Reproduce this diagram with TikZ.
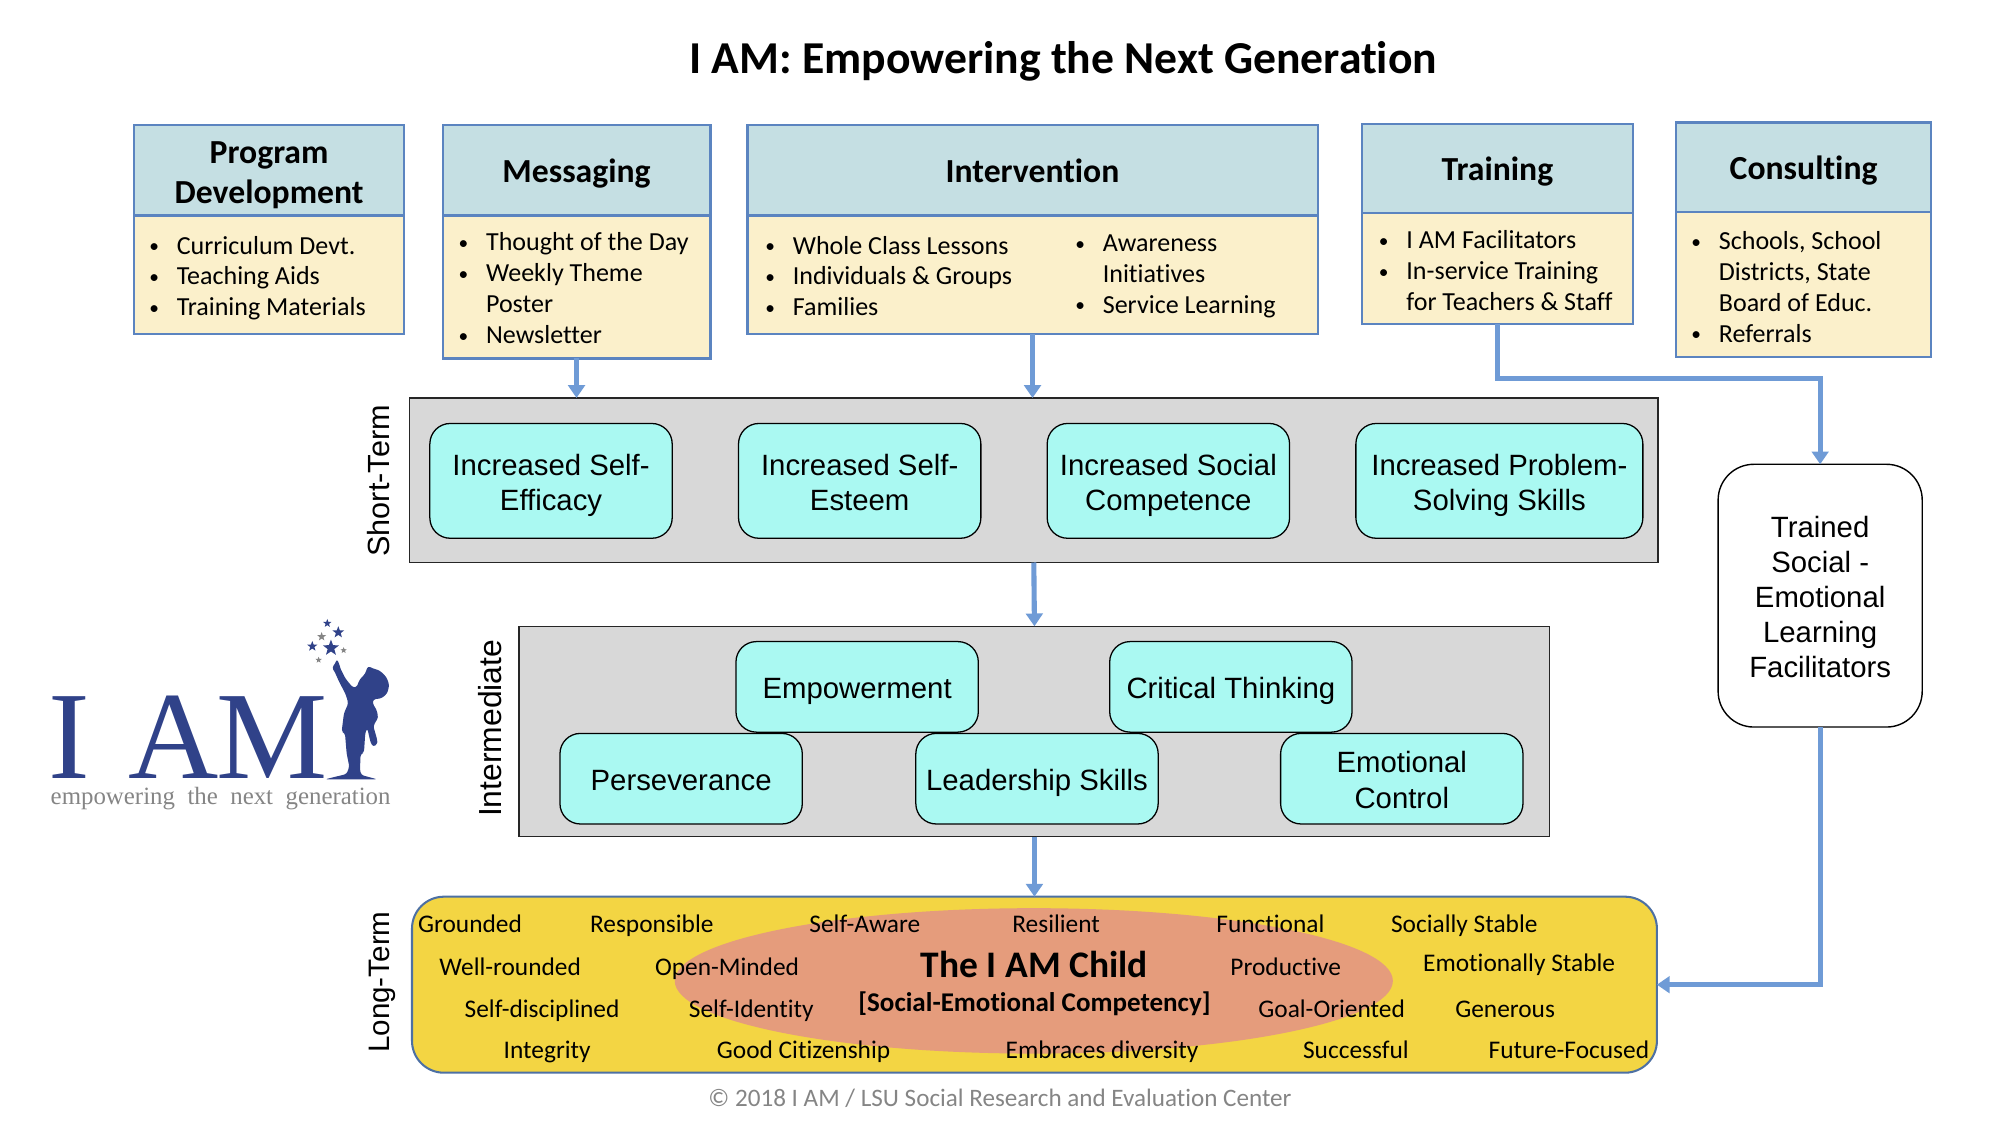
\documentclass[tikz,border=0pt]{standalone}
\usepackage{fontspec}
\setmainfont[Ligatures=CommonOff]{Carlito}
\newfontfamily\arl{Liberation Sans}
\newfontfamily\lgf{Liberation Serif}
\usetikzlibrary{arrows.meta,shapes.geometric}
\definecolor{edgeblue}{HTML}{5B84C0}
\definecolor{arrowblue}{HTML}{6F9BD6}
\definecolor{headfill}{HTML}{C5DFE3}
\definecolor{bodyfill}{HTML}{FBF0CB}
\definecolor{panelfill}{HTML}{D8D8D8}
\definecolor{cyanfill}{HTML}{AAF9F2}
\definecolor{goldfill}{HTML}{F3D543}
\definecolor{salmon}{HTML}{E59C7C}
\definecolor{logoblue}{HTML}{304289}
\definecolor{logogrey}{HTML}{858585}
\newcommand{\bx}[7][]{\node[#7,#1,minimum width={(#4-#2)*0.5pt},minimum height={(#5-#3)*0.5pt}] (#6) at ({(#2+#4)/2},{(#3+#5)/2})}
\newcommand{\blist}[1]{\begin{tabular}{@{}l@{\hspace{6.4pt}}l@{}}#1\end{tabular}}
\newcommand{\itm}{\makebox[4.9pt][c]{\raisebox{0.5pt}{\fontsize{7.6}{9}\selectfont •}}&}
\newcommand{\toprule}[1]{\rule{0pt}{#1}}
\newcommand{\botrule}[1]{\rule[-#1]{0pt}{#1}}
\newcommand{\stack}[2][-0.3pt]{\raisebox{#1}[0pt][0pt]{\begin{tabular}{@{}c@{}}#2\end{tabular}}}
\tikzset{
  x=0.5pt,y=-0.5pt,
  every node/.style={inner sep=0pt,outer sep=0pt},
  headbox/.style={draw=edgeblue,fill=headfill,line width=0.85pt},
  headtext/.style={align=center,font=\fontsize{13.2}{15.5}\selectfont\bfseries,
    execute at begin node={\toprule{12.5pt}},execute at end node={\botrule{3pt}}},
  bodybox/.style={draw=edgeblue,fill=bodyfill,line width=0.85pt},
  listtext/.style={anchor=west,align=left,font=\fontsize{10.2}{12.1}\selectfont},
  panelbox/.style={draw=black!85,fill=panelfill,line width=0.55pt},
  outbox/.style={draw=black,fill=cyanfill,line width=0.5pt,rounded corners=8pt},
  outtext/.style={align=center,font=\arl\fontsize{11.5}{13.8}\selectfont,
    execute at begin node={\toprule{13pt}},execute at end node={\botrule{3.9pt}}},
  sidelabel/.style={rotate=90},
  trait/.style={font=\fontsize{9.95}{12}\selectfont,text height=8.4pt,text depth=2pt},
  flow/.style={draw=arrowblue,line width=2pt,-{Triangle[width=6.5pt,length=5pt]}},
  bluestar/.style={star,star points=5,star point ratio=2.4,fill=logoblue,inner sep=0pt},
  greystar/.style={star,star points=5,star point ratio=2.4,fill=logogrey,inner sep=0pt},
}
\begin{document}
\begin{tikzpicture}
\useasboundingbox (0,0) rectangle (1568,882);
\node[font=\fontsize{17.9}{20}\selectfont\bfseries] (title) at (833.5,48) {I AM: Empowering the Next Generation};

% Top boxes
\bx{105}{98}{317}{169}{pdh}{headbox,headtext}{\stack{Program\\Development}};
\bx{105}{169}{317}{262}{pdb}{bodybox}{};
\node[listtext] (pdt) at (116,218.5) {\blist{\itm Curriculum Devt.\\ \itm Teaching Aids\\ \itm Training Materials}};

\bx{347}{98}{557}{169}{msh}{headbox,headtext}{Messaging};
\bx{347}{169}{557}{281}{msb}{bodybox}{};
\node[listtext] (mst) at (358.5,228) {\blist{\itm Thought of the Day\\ \itm Weekly Theme\\ & Poster\\ \itm Newsletter}};

\bx{586}{98}{1033}{169}{inh}{headbox,headtext}{Intervention};
\bx{586}{169}{1033}{262}{inb}{bodybox}{};
\node[listtext] (int) at (599,218.5) {\blist{\itm Whole Class Lessons\\ \itm Individuals \& Groups\\ \itm Families}};
\node[listtext] (inr) at (842,216.5) {\blist{\itm Awareness\\ & Initiatives\\ \itm Service Learning}};

\bx{1068}{97}{1280}{167}{trh}{headbox,headtext}{Training};
\bx{1068}{167}{1280}{254}{trb}{bodybox}{};
\node[listtext] (trt) at (1080,214.5) {\blist{\itm I AM Facilitators\\ \itm In-service Training\\ & for Teachers \& Staff}};

\bx{1314}{96}{1514}{166}{cnh}{headbox,headtext}{Consulting};
\bx{1314}{166}{1514}{280}{cnb}{bodybox}{};
\node[listtext] (cnt) at (1325,227) {\blist{\itm Schools, School\\ & Districts, State\\ & Board of Educ.\\ \itm Referrals}};

% Short term
\bx{321}{312}{1300}{441}{st}{panelbox}{};
\node[sidelabel,font=\arl\fontsize{12}{14}\selectfont] (stl) at (297,377) {Short-Term};
\bx{337}{332}{527}{422}{s1}{outbox,outtext}{\stack{Increased Self-\\Efficacy}};
\bx{579}{332}{769}{422}{s2}{outbox,outtext}{\stack{Increased Self-\\Esteem}};
\bx{821}{332}{1011}{422}{s3}{outbox,outtext}{\stack{Increased Social\\Competence}};
\bx{1063}{332}{1288}{422}{s4}{outbox,outtext}{\stack{Increased Problem-\\Solving Skills}};

% Intermediate
\bx{407}{491}{1215}{656}{it}{panelbox}{};
\node[sidelabel,font=\arl\fontsize{12.5}{14}\selectfont] (itl) at (384,571) {Intermediate};
\bx{577}{503}{767}{574}{i1}{outbox,outtext}{Empowerment};
\bx{870}{503}{1060}{574}{i2}{outbox,outtext}{Critical Thinking};
\bx{439}{575}{629}{646}{i3}{outbox,outtext}{Perseverance};
\bx{718}{575}{908}{646}{i4}{outbox,outtext}{Leadership Skills};
\bx{1004}{575}{1194}{646}{i5}{outbox,outtext}{\stack{Emotional\\Control}};

% Long term
\bx{323}{703}{1299}{841}{lt}{draw=edgeblue!85!black,fill=goldfill,line width=0.8pt,rounded corners=12.5pt}{};
\node[ellipse,fill=salmon,minimum width=281.5pt,minimum height=57pt] (child) at (810.5,769) {};
\node[sidelabel,font=\arl\fontsize{11.6}{14}\selectfont] (ltl) at (300,770) {Long-Term};
\node[font=\fontsize{14.7}{16}\selectfont\bfseries,text height=10pt,text depth=1pt] (c1) at (811,757) {The I AM Child};
\node[font=\fontsize{10.6}{12}\selectfont\bfseries,text height=8.4pt,text depth=2pt] (c2) at (811,787) {[Social-Emotional Competency]};
\node[trait] (w1) at (368.5,724.5) {Grounded};
\node[trait] (w2) at (511,724.5) {Responsible};
\node[trait] (w3) at (678,724.5) {Self-Aware};
\node[trait] (w4) at (828,724.5) {Resilient};
\node[trait] (w5) at (996,724.5) {Functional};
\node[trait] (w6) at (1148,724.5) {Socially Stable};
\node[trait] (w7) at (400,758) {Well-rounded};
\node[trait] (w8) at (570,758) {Open-Minded};
\node[trait] (w9) at (1008,758) {Productive};
\node[trait] (w10) at (1191,755) {Emotionally Stable};
\node[trait] (w11) at (425,791) {Self-disciplined};
\node[trait] (w12) at (589,791) {Self-Identity};
\node[trait] (w13) at (1044,791) {Goal-Oriented};
\node[trait] (w14) at (1180,791) {Generous};
\node[trait] (w15) at (429,823.5) {Integrity};
\node[trait] (w16) at (630,823.5) {Good Citizenship};
\node[trait] (w17) at (864,823.5) {Embraces diversity};
\node[trait] (w18) at (1063,823.5) {Successful};
\node[trait] (w19) at (1230,823.5) {Future-Focused};

\node[text=logogrey,font=\fontsize{9.85}{12}\selectfont,text height=8.4pt,text depth=2pt] (copy) at (784,861) {© 2018 I AM / LSU Social Research and Evaluation Center};

% Facilitators
\bx{1347}{364}{1507}{570}{fac}{draw=black,fill=white,line width=0.55pt,rounded corners=14pt,align=center,font=\arl\fontsize{11.5}{13.75}\selectfont,
  execute at begin node={\toprule{13pt}},execute at end node={\botrule{3.9pt}}}{\stack{Trained\\Social -\\Emotional\\Learning\\Facilitators}};

% Connectors
\coordinate (tbend) at (1300,297);
\draw[flow] (msb.south) -- (msb.south |- st.north);
\draw[flow] (inb.south) -- (inb.south |- st.north);
\draw[flow] (st.south) -- (it.north);
\draw[flow] (it.south) -- (lt.north);
\draw[flow] (trb.south) |- (tbend) -| (fac.north);
\draw[flow] (fac.south) |- (lt.east);

% Logo (coordinates in a 3x crop)
\begin{scope}[shift={(23.5,470.4)},x=0.13066pt,y=-0.13066pt]
  \node[anchor=base,text=logoblue,font=\lgf\fontsize{49}{50}\selectfont] (lI) at (118,535) {I};
  \node[anchor=base,text=logoblue,font=\lgf\fontsize{49}{50}\selectfont] (lA) at (431,535) {A};
  \node[anchor=base,text=logoblue,font=\lgf\fontsize{49}{50}\selectfont] (lM) at (726,535) {M};
  \node[anchor=base,text=logogrey,font=\lgf\fontsize{9.75}{12}\selectfont] (tag) at (572,615) {empowering\ \ the\ \ next\ \ generation};
  \fill[logoblue,rounded corners=1pt]
    (906,203) -- (916,190) -- (921,177) -- (928,192) -- (931,205) -- (946,235) -- (968,262)
    -- (980,262) -- (988,240) -- (1005,222) -- (1014,198) -- (1028,205) -- (1050,212)
    -- (1070,232) -- (1078,255) -- (1072,280) -- (1055,295) -- (1030,298)
    -- (1028,310) -- (1040,330) -- (1045,352) -- (1030,378) -- (1042,420) -- (1042,432)
    -- (1030,441) -- (1022,428) -- (1012,385) -- (1006,398) -- (1002,458) -- (992,462)
    -- (990,510) -- (994,525) -- (1042,538) -- (885,538) -- (950,522) -- (958,500) -- (950,460)
    -- (945,400) -- (935,395) -- (942,340) -- (955,310) -- (948,285) -- (925,240) -- (914,215) -- cycle;
  \node[bluestar,minimum size=3.4pt] (s-a) at (892,70) {};
  \node[bluestar,minimum size=4.8pt] (s-b) at (925,97) {};
  \node[bluestar,minimum size=4.2pt] (s-c) at (847,139) {};
  \node[bluestar,minimum size=6.6pt] (s-d) at (903,144) {};
  \node[greystar,minimum size=3.6pt] (s-e) at (875,110) {};
  \node[greystar,minimum size=2.6pt] (s-f) at (941,151) {};
  \node[greystar,minimum size=2.6pt] (s-g) at (866,180) {};
\end{scope}
\end{tikzpicture}
\end{document}
